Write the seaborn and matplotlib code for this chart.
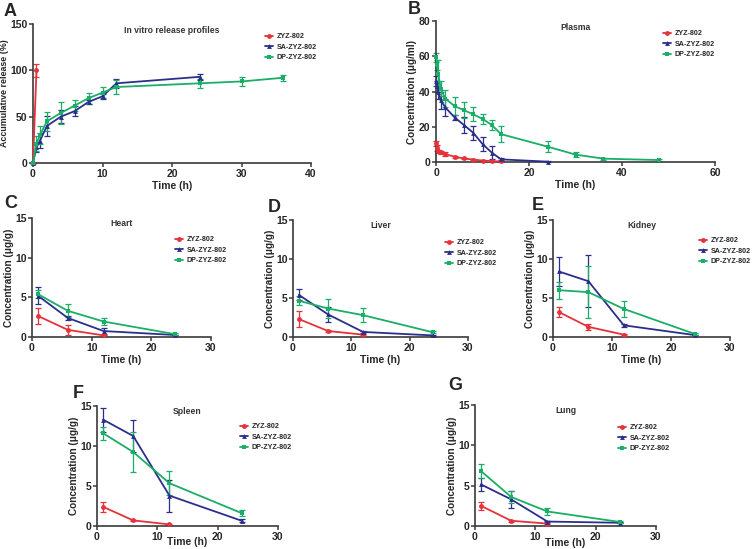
import numpy as np
import pandas as pd
import matplotlib
matplotlib.use("Agg")
import matplotlib.pyplot as plt
import seaborn as sns

# ---- data -------------------------------------------------------------
series_names = ["ZYZ-802", "SA-ZYZ-802", "DP-ZYZ-802"]
colors = {"ZYZ-802": "#e5323b", "SA-ZYZ-802": "#2b2f8c", "DP-ZYZ-802": "#1aae66"}
markers = {"ZYZ-802": "o", "SA-ZYZ-802": "^", "DP-ZYZ-802": "s"}

# A: in vitro release (%)
a_zyz_t = [0, 0.5]
a_zyz_y = [0, 100]
a_zyz_e = [0, 7]
a_sa_t = [0, 0.5, 1, 2, 4, 6, 8, 10, 12, 24]
a_sa_y = [0, 17, 24, 40, 50, 56, 66, 72, 86, 93]
a_sa_e = [0, 5, 8, 11, 7, 5, 2, 3, 5, 3]
a_dp_t = [0, 0.5, 1, 2, 4, 6, 8, 10, 12, 24, 30, 36]
a_dp_y = [0, 21, 30, 45, 54, 62, 70, 76, 82, 86, 88, 92]
a_dp_e = [0, 8, 10, 10, 12, 6, 6, 6, 8, 5, 5, 3]

# B: plasma (ug/ml)
b_zyz_t = [0.083, 0.25, 0.5, 1, 2, 4, 6, 8, 10, 12, 14]
b_zyz_y = [10.5, 8, 6, 5.5, 4.5, 3, 2, 1.4, 0.8, 0.5, 0.3]
b_zyz_e = [1.5, 1.5, 1, 1, 1, 0.5, 0.3, 0.3, 0.3, 0.2, 0.2]
b_sa_t = [0.083, 0.25, 0.5, 1, 2, 4, 6, 8, 10, 12, 14, 24]
b_sa_y = [46, 43, 40, 35, 31, 25.3, 21, 16.6, 10.2, 5.3, 1.5, 0.2]
b_sa_e = [3, 3, 4, 5, 5, 1.5, 4.7, 4, 4, 3.7, 0.5, 0.2]
b_dp_t = [0.083, 0.25, 0.5, 1, 2, 4, 6, 8, 10, 12, 14, 24, 30, 36, 48]
b_dp_y = [59.5, 55, 50, 41.7, 36, 31.7, 29.4, 27, 24.5, 21, 15.8, 8.7, 4.2, 1.9, 1.1]
b_dp_e = [2.5, 3, 8, 4, 5, 5, 4.5, 4, 3, 3, 4.5, 3, 1.6, 0.5, 0.5]

# C-G: tissues (ug/g), sampled at 1, 6, 12, 24 h
tissue_t = [1, 6, 12, 24]
heart_zyz = [2.65, 0.9, 0.2]
heart_zyz_e = [1.0, 0.6, 0.1]
heart_sa = [5.2, 2.4, 0.75, 0.25]
heart_sa_e = [1.1, 0.3, 0.4, 0.05]
heart_dp = [5.4, 3.3, 1.95, 0.35]
heart_dp_e = [0.5, 0.8, 0.4, 0.1]

liver_zyz = [2.3, 0.77, 0.3]
liver_zyz_e = [1.05, 0.1, 0.05]
liver_sa = [5.4, 2.9, 0.65, 0.2]
liver_sa_e = [0.7, 1.0, 0.1, 0.05]
liver_dp = [4.65, 3.65, 2.8, 0.6]
liver_dp_e = [0.6, 1.2, 0.9, 0.15]

kidney_zyz = [3.2, 1.3, 0.3]
kidney_zyz_e = [0.6, 0.35, 0.05]
kidney_sa = [8.4, 7.15, 1.5, 0.25]
kidney_sa_e = [1.85, 3.3, 0.2, 0.05]
kidney_dp = [6.0, 5.75, 3.6, 0.4]
kidney_dp_e = [1.1, 3.3, 1.0, 0.1]

spleen_zyz = [2.4, 0.7, 0.2]
spleen_zyz_e = [0.6, 0.1, 0.05]
spleen_sa = [13.3, 11.25, 3.8, 0.65]
spleen_sa_e = [1.5, 2.0, 2.0, 0.2]
spleen_dp = [11.6, 9.25, 5.35, 1.6]
spleen_dp_e = [0.8, 2.5, 1.5, 0.4]

lung_zyz = [2.5, 0.65, 0.3]
lung_zyz_e = [0.5, 0.15, 0.05]
lung_sa = [5.15, 3.3, 0.55, 0.4]
lung_sa_e = [0.85, 1.1, 0.1, 0.05]
lung_dp = [6.8, 3.6, 1.8, 0.5]
lung_dp_e = [0.85, 0.8, 0.45, 0.1]


def make_df(parts):
    rows = []
    for name, t, y, e in parts:
        for ti, yi, ei in zip(t, y, e):
            rows.append({"series": name, "t": ti, "y": yi, "err": ei})
    return pd.DataFrame(rows)


def tissue_df(zyz, zyz_e, sa, sa_e, dp, dp_e):
    return make_df([
        ("ZYZ-802", tissue_t[:len(zyz)], zyz, zyz_e),
        ("SA-ZYZ-802", tissue_t, sa, sa_e),
        ("DP-ZYZ-802", tissue_t, dp, dp_e),
    ])


panels = [
    # letter, df, title, ylabel, xlim, ylim, axes px box, legend px pos,
    # letter px pos, ylabel size, xlabel pad
    ("A", make_df([("ZYZ-802", a_zyz_t, a_zyz_y, a_zyz_e),
                   ("SA-ZYZ-802", a_sa_t, a_sa_y, a_sa_e),
                   ("DP-ZYZ-802", a_dp_t, a_dp_y, a_dp_e)]),
     "In vitro release profiles", "Accumulative release (%)",
     (0, 40, 10), (0, 150, 50), (33, 24, 311, 163), (265, 33), (10, 12), 6.4, 1.5),
    ("B", make_df([("ZYZ-802", b_zyz_t, b_zyz_y, b_zyz_e),
                   ("SA-ZYZ-802", b_sa_t, b_sa_y, b_sa_e),
                   ("DP-ZYZ-802", b_dp_t, b_dp_y, b_dp_e)]),
     "Plasma", "Concentration (\u03bcg/ml)",
     (0, 60, 20), (0, 80, 20), (436, 21, 715, 162), (663, 30), (414, 9), 7.2, 1.5),
    ("C", tissue_df(heart_zyz, heart_zyz_e, heart_sa, heart_sa_e, heart_dp, heart_dp_e),
     "Heart", "Concentration (\u03bcg/g)",
     (0, 30, 10), (0, 15, 5), (32, 218, 211, 337), (175, 236), (11, 204), 7.2, 1.5),
    ("D", tissue_df(liver_zyz, liver_zyz_e, liver_sa, liver_sa_e, liver_dp, liver_dp_e),
     "Liver", "Concentration (\u03bcg/g)",
     (0, 30, 10), (0, 15, 5), (293, 220, 468, 337), (445, 239), (274, 207), 7.2, 1.5),
    ("E", tissue_df(kidney_zyz, kidney_zyz_e, kidney_sa, kidney_sa_e, kidney_dp, kidney_dp_e),
     "Kidney", "Concentration (\u03bcg/g)",
     (0, 30, 10), (0, 15, 5), (553, 220, 730, 337), (699, 237), (538, 206), 7.2, 1.5),
    ("F", tissue_df(spleen_zyz, spleen_zyz_e, spleen_sa, spleen_sa_e, spleen_dp, spleen_dp_e),
     "Spleen", "Concentration (\u03bcg/g)",
     (0, 30, 10), (0, 15, 5), (97, 406, 278, 526), (240, 423), (78, 393), 7.2, -3),
    ("G", tissue_df(lung_zyz, lung_zyz_e, lung_sa, lung_sa_e, lung_dp, lung_dp_e),
     "Lung", "Concentration (\u03bcg/g)",
     (0, 30, 10), (0, 15, 5), (475, 405, 656, 526), (618, 424), (455, 386), 7.2, -2.5),
]

sns.set_style("ticks")
plt.rcParams["font.family"] = ["Liberation Sans", "DejaVu Sans"]
plt.rcParams["font.weight"] = "bold"
plt.rcParams["axes.labelweight"] = "bold"

W, H = 753, 549
fig = plt.figure(figsize=(W / 100, H / 100), dpi=100)
fig.patch.set_facecolor("white")

for letter, df, title, ylabel, xl, yl, box, legpos, letpos, ysize, xpad in panels:
    x0, y0, x1, y1 = box
    ax = fig.add_axes([x0 / W, 1 - y1 / H, (x1 - x0) / W, (y1 - y0) / H])
    for name in series_names:
        sub = df[df["series"] == name]
        ax.errorbar(sub["t"], sub["y"], yerr=sub["err"], fmt="none",
                    ecolor=colors[name], elinewidth=0.9, capsize=2, capthick=0.9,
                    zorder=2)
    sns.lineplot(data=df, x="t", y="y", hue="series", style="series",
                 hue_order=series_names, style_order=series_names,
                 palette=colors, markers=markers, dashes=False,
                 markersize=3.5, markeredgewidth=0, linewidth=1.3,
                 estimator=None, sort=False, ax=ax, zorder=3)
    ax.set_xlim(xl[0], xl[1])
    ax.set_ylim(yl[0], yl[1])
    ax.set_xticks(np.arange(xl[0], xl[1] + 0.1, xl[2]))
    ax.set_yticks(np.arange(yl[0], yl[1] + 0.1, yl[2]))
    ax.set_xlabel("Time (h)", fontsize=7.5, fontweight="bold", labelpad=xpad)
    ax.set_ylabel(ylabel, fontsize=ysize, fontweight="bold", labelpad=1)
    ax.text(0.5, 0.955, title, transform=ax.transAxes, ha="center", va="center",
            fontsize=6.2, fontweight="bold", color="#333333")
    for s in ["top", "right"]:
        ax.spines[s].set_visible(False)
    for s in ["left", "bottom"]:
        ax.spines[s].set_linewidth(1.2)
        ax.spines[s].set_color("#3a3a3a")
    ax.tick_params(axis="both", labelsize=7.5, length=3, width=1.1, pad=1,
                   color="#3a3a3a")
    for lab in ax.get_xticklabels() + ax.get_yticklabels():
        lab.set_fontweight("bold")
    for ln in ax.lines:
        ln.set_clip_on(False)
    for coll in ax.collections:
        coll.set_clip_on(False)

    handles, labels = ax.get_legend_handles_labels()
    ax.legend(handles, labels, loc="upper left",
              bbox_to_anchor=(legpos[0] / W, 1 - legpos[1] / H),
              bbox_transform=fig.transFigure, frameon=False,
              handlelength=1.1, handletextpad=0.5,
              labelspacing=0.5, borderpad=0, borderaxespad=0,
              prop={"size": 5.1, "weight": "bold"})
    fig.text(letpos[0] / W, 1 - letpos[1] / H, letter, ha="center", va="center",
             fontsize=13, fontweight="bold")

fig.savefig("out.png", dpi=100)
